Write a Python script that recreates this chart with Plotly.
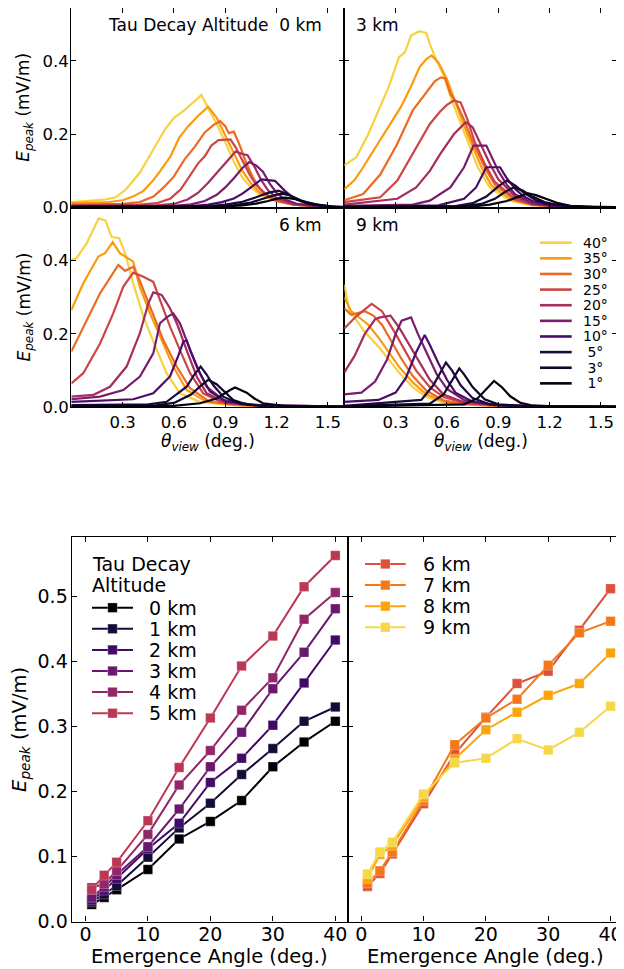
import plotly.graph_objects as go

# page is 624x969; the browser body adds an 8px margin, so the figure is 616x961
PAGE_W, PAGE_H = 624, 969
OFF = 8
W, H = PAGE_W - OFF, PAGE_H - OFF

# ---------------- data: top panels (E_peak vs viewing angle) ----------------
angles = [40, 35, 30, 25, 20, 15, 10, 5, 3, 1]
angle_labels = ["40°", "35°", "30°", "25°", "20°", "15°", "10°", "\u00a05°", "\u00a03°", "\u00a01°"]
panel_alts = ["0 km", "3 km", "6 km", "9 km"]

theta_0km = [
    [0.00,0.10,0.20,0.26,0.32,0.40,0.48,0.55,0.60,0.66,0.72,0.76,0.80,0.85,0.90,0.95,1.00,1.05,1.10,1.20,1.30,1.45,1.60],
    [0.00,0.20,0.30,0.36,0.42,0.48,0.52,0.58,0.63,0.68,0.74,0.80,0.85,0.90,0.95,1.00,1.05,1.10,1.20,1.30,1.45,1.60],
    [0.00,0.30,0.40,0.48,0.54,0.60,0.66,0.72,0.78,0.83,0.87,0.90,0.92,0.95,0.98,1.02,1.06,1.10,1.15,1.20,1.30,1.45,1.60],
    [0.00,0.40,0.50,0.58,0.64,0.70,0.74,0.78,0.82,0.86,0.93,0.96,1.00,1.04,1.08,1.12,1.20,1.30,1.45,1.60],
    [0.00,0.50,0.60,0.68,0.74,0.80,0.86,0.91,0.96,1.00,1.03,1.07,1.11,1.15,1.20,1.30,1.45,1.60],
    [0.00,0.60,0.70,0.78,0.85,0.90,0.95,1.00,1.04,1.08,1.12,1.16,1.20,1.25,1.32,1.45,1.60],
    [0.00,0.70,0.80,0.88,0.95,1.00,1.05,1.11,1.19,1.25,1.30,1.38,1.50,1.60],
    [0.00,0.80,0.90,1.00,1.08,1.15,1.21,1.26,1.32,1.40,1.50,1.60],
    [0.00,0.85,0.95,1.05,1.12,1.18,1.23,1.28,1.34,1.42,1.52,1.60],
    [0.00,0.90,1.00,1.08,1.15,1.21,1.25,1.30,1.36,1.44,1.53,1.60],
]
epeak_0km = [
    [0.015,0.018,0.022,0.028,0.050,0.095,0.160,0.215,0.245,0.265,0.290,0.307,0.272,0.228,0.178,0.125,0.082,0.055,0.037,0.017,0.008,0.003,0.001],
    [0.012,0.014,0.020,0.030,0.045,0.075,0.100,0.140,0.190,0.220,0.250,0.275,0.245,0.197,0.148,0.100,0.066,0.041,0.018,0.008,0.003,0.001],
    [0.008,0.010,0.015,0.030,0.055,0.085,0.130,0.165,0.205,0.225,0.236,0.222,0.203,0.207,0.175,0.125,0.083,0.053,0.032,0.019,0.008,0.003,0.001],
    [0.006,0.008,0.012,0.025,0.050,0.090,0.120,0.140,0.170,0.184,0.186,0.165,0.127,0.092,0.062,0.042,0.020,0.008,0.003,0.001],
    [0.005,0.006,0.010,0.022,0.040,0.068,0.100,0.128,0.153,0.146,0.143,0.112,0.075,0.047,0.026,0.010,0.003,0.001],
    [0.004,0.005,0.009,0.018,0.035,0.055,0.080,0.108,0.124,0.115,0.098,0.065,0.040,0.022,0.010,0.003,0.001],
    [0.003,0.004,0.008,0.015,0.025,0.038,0.055,0.077,0.073,0.045,0.026,0.010,0.003,0.001],
    [0.002,0.004,0.008,0.016,0.028,0.040,0.046,0.038,0.022,0.009,0.003,0.001],
    [0.002,0.003,0.007,0.014,0.024,0.033,0.038,0.033,0.020,0.009,0.003,0.001],
    [0.001,0.003,0.006,0.011,0.018,0.025,0.027,0.024,0.016,0.008,0.003,0.001],
]

theta_3km = [
    [0.00,0.07,0.14,0.21,0.26,0.32,0.355,0.39,0.44,0.48,0.50,0.54,0.58,0.63,0.705,0.78,0.85,0.97,1.10,1.30,1.60],
    [0.00,0.06,0.11,0.21,0.27,0.33,0.39,0.44,0.48,0.51,0.55,0.60,0.65,0.72,0.80,0.86,0.98,1.10,1.30,1.60],
    [0.00,0.11,0.21,0.31,0.40,0.48,0.53,0.565,0.59,0.62,0.65,0.70,0.75,0.82,0.88,1.00,1.10,1.30,1.60],
    [0.00,0.21,0.31,0.42,0.50,0.56,0.60,0.64,0.68,0.72,0.76,0.82,0.88,1.00,1.10,1.30,1.60],
    [0.00,0.31,0.42,0.50,0.56,0.64,0.71,0.75,0.80,0.85,0.90,1.00,1.10,1.30,1.60],
    [0.00,0.40,0.50,0.62,0.70,0.755,0.83,0.86,0.90,0.95,1.00,1.10,1.20,1.40,1.60],
    [0.00,0.55,0.70,0.77,0.83,0.91,0.95,1.00,1.05,1.10,1.20,1.40,1.60],
    [0.00,0.65,0.75,0.83,0.90,0.95,1.00,1.05,1.12,1.20,1.35,1.60],
    [0.00,0.70,0.80,0.88,0.94,0.99,1.04,1.10,1.17,1.25,1.40,1.60],
    [0.00,0.75,0.85,0.95,1.02,1.075,1.12,1.18,1.25,1.32,1.45,1.60],
]
epeak_3km = [
    [0.115,0.137,0.200,0.274,0.330,0.410,0.424,0.469,0.481,0.476,0.446,0.400,0.362,0.290,0.200,0.110,0.055,0.019,0.006,0.002,0.001],
    [0.050,0.075,0.110,0.183,0.230,0.274,0.330,0.383,0.405,0.415,0.395,0.350,0.287,0.200,0.112,0.060,0.021,0.007,0.002,0.001],
    [0.020,0.037,0.090,0.174,0.265,0.315,0.345,0.355,0.352,0.310,0.290,0.240,0.180,0.110,0.062,0.021,0.008,0.002,0.001],
    [0.015,0.028,0.074,0.165,0.228,0.262,0.280,0.292,0.287,0.240,0.182,0.120,0.070,0.023,0.008,0.002,0.001],
    [0.008,0.024,0.055,0.100,0.146,0.200,0.233,0.219,0.170,0.120,0.077,0.030,0.010,0.002,0.001],
    [0.005,0.008,0.019,0.055,0.110,0.169,0.169,0.140,0.100,0.062,0.036,0.012,0.005,0.002,0.001],
    [0.003,0.006,0.024,0.055,0.110,0.110,0.080,0.050,0.030,0.018,0.006,0.002,0.001],
    [0.002,0.004,0.012,0.030,0.058,0.074,0.060,0.040,0.020,0.009,0.003,0.001],
    [0.002,0.004,0.010,0.024,0.043,0.055,0.047,0.030,0.015,0.007,0.002,0.001],
    [0.001,0.003,0.008,0.018,0.030,0.039,0.034,0.024,0.012,0.005,0.002,0.001],
]

theta_6km = [
    [0.00,0.03,0.09,0.16,0.20,0.236,0.28,0.314,0.362,0.421,0.50,0.557,0.635,0.75,0.95,1.20,1.60],
    [0.00,0.07,0.158,0.197,0.242,0.284,0.362,0.40,0.46,0.538,0.596,0.674,0.79,0.95,1.20,1.60],
    [0.00,0.09,0.168,0.275,0.314,0.362,0.40,0.46,0.538,0.616,0.694,0.81,0.99,1.20,1.60],
    [0.00,0.07,0.168,0.245,0.304,0.362,0.421,0.479,0.518,0.577,0.635,0.694,0.771,0.869,1.044,1.30,1.60],
    [0.00,0.13,0.226,0.323,0.401,0.45,0.479,0.528,0.577,0.62,0.674,0.733,0.791,0.908,1.14,1.60],
    [0.00,0.168,0.304,0.401,0.479,0.518,0.557,0.596,0.635,0.674,0.733,0.791,0.888,1.064,1.60],
    [0.00,0.362,0.479,0.577,0.625,0.655,0.674,0.694,0.752,0.81,0.908,1.10,1.60],
    [0.00,0.45,0.557,0.674,0.72,0.756,0.79,0.83,0.888,0.986,1.15,1.60],
    [0.00,0.50,0.60,0.70,0.76,0.80,0.849,0.90,0.947,1.03,1.20,1.60],
    [0.00,0.60,0.752,0.849,0.928,0.957,1.025,1.07,1.12,1.24,1.40,1.60],
]
epeak_6km = [
    [0.402,0.406,0.447,0.515,0.509,0.464,0.461,0.420,0.338,0.247,0.156,0.093,0.038,0.015,0.006,0.003,0.002],
    [0.265,0.338,0.411,0.420,0.450,0.420,0.397,0.329,0.256,0.174,0.111,0.047,0.015,0.006,0.003,0.002],
    [0.152,0.238,0.311,0.388,0.372,0.383,0.345,0.274,0.183,0.111,0.052,0.015,0.006,0.003,0.002],
    [0.065,0.093,0.174,0.256,0.329,0.367,0.356,0.342,0.293,0.220,0.156,0.093,0.038,0.015,0.006,0.003,0.002],
    [0.029,0.034,0.056,0.111,0.202,0.283,0.313,0.306,0.270,0.225,0.156,0.084,0.038,0.011,0.004,0.002],
    [0.022,0.029,0.047,0.084,0.147,0.229,0.245,0.256,0.229,0.184,0.111,0.056,0.020,0.006,0.002],
    [0.015,0.022,0.038,0.084,0.140,0.179,0.182,0.156,0.093,0.043,0.015,0.006,0.002],
    [0.006,0.008,0.015,0.056,0.090,0.111,0.090,0.060,0.029,0.009,0.003,0.001],
    [0.004,0.006,0.012,0.035,0.060,0.075,0.063,0.040,0.020,0.007,0.002,0.001],
    [0.002,0.004,0.011,0.024,0.047,0.054,0.040,0.024,0.011,0.004,0.002,0.001],
]

theta_9km = [
    [0.00,0.03,0.06,0.12,0.20,0.26,0.32,0.40,0.48,0.58,0.70,0.90,1.20,1.60],
    [0.00,0.04,0.10,0.14,0.20,0.26,0.32,0.40,0.48,0.58,0.70,0.90,1.20,1.60],
    [0.00,0.04,0.12,0.17,0.22,0.27,0.33,0.40,0.48,0.58,0.70,0.90,1.20,1.60],
    [0.00,0.07,0.16,0.22,0.30,0.36,0.42,0.50,0.58,0.70,0.90,1.20,1.60],
    [0.00,0.06,0.12,0.18,0.21,0.27,0.32,0.38,0.44,0.50,0.58,0.70,0.90,1.20,1.60],
    [0.00,0.10,0.18,0.25,0.30,0.335,0.39,0.43,0.48,0.54,0.60,0.70,0.85,1.20,1.60],
    [0.00,0.20,0.30,0.36,0.42,0.47,0.50,0.55,0.60,0.65,0.75,0.90,1.20,1.60],
    [0.00,0.45,0.52,0.57,0.594,0.63,0.68,0.75,0.85,1.00,1.60],
    [0.00,0.50,0.58,0.64,0.672,0.70,0.75,0.82,0.90,1.05,1.60],
    [0.00,0.70,0.78,0.84,0.875,0.92,0.97,1.03,1.10,1.25,1.60],
]
epeak_9km = [
    [0.334,0.262,0.245,0.205,0.165,0.130,0.095,0.055,0.028,0.013,0.007,0.004,0.002,0.002],
    [0.300,0.262,0.240,0.225,0.190,0.150,0.110,0.068,0.035,0.016,0.008,0.004,0.002,0.002],
    [0.270,0.252,0.262,0.250,0.225,0.185,0.135,0.085,0.045,0.019,0.009,0.004,0.002,0.002],
    [0.215,0.248,0.282,0.262,0.200,0.150,0.100,0.055,0.028,0.012,0.005,0.002,0.002],
    [0.095,0.140,0.200,0.240,0.245,0.250,0.218,0.170,0.120,0.075,0.035,0.014,0.005,0.002,0.002],
    [0.035,0.040,0.070,0.130,0.200,0.236,0.245,0.200,0.150,0.090,0.050,0.020,0.007,0.002,0.002],
    [0.015,0.020,0.040,0.080,0.150,0.197,0.170,0.120,0.075,0.040,0.015,0.006,0.002,0.002],
    [0.004,0.020,0.060,0.100,0.122,0.100,0.060,0.025,0.008,0.003,0.001],
    [0.003,0.010,0.035,0.080,0.106,0.090,0.055,0.022,0.008,0.003,0.001],
    [0.002,0.008,0.025,0.055,0.072,0.055,0.030,0.012,0.005,0.002,0.001],
]

top_theta_ticks = [0.3, 0.6, 0.9, 1.2, 1.5]
top_e_ticks = [0.0, 0.2, 0.4]

# ---------------- data: bottom panels (peak field vs emergence angle) ----------------
emergence = [1, 3, 5, 10, 15, 20, 25, 30, 35, 40]
altitudes = [0, 1, 2, 3, 4, 5, 6, 7, 8, 9]
altitude_labels = ["0 km", "1 km", "2 km", "3 km", "4 km", "5 km", "6 km", "7 km", "8 km", "9 km"]
epeak_alt0 = [0.026, 0.037, 0.049, 0.080, 0.127, 0.154, 0.186, 0.238, 0.276, 0.308]
epeak_alt1 = [0.030, 0.042, 0.055, 0.099, 0.144, 0.182, 0.226, 0.266, 0.308, 0.330]
epeak_alt2 = [0.033, 0.048, 0.066, 0.112, 0.151, 0.214, 0.251, 0.302, 0.367, 0.433]
epeak_alt3 = [0.037, 0.053, 0.072, 0.115, 0.173, 0.238, 0.291, 0.358, 0.414, 0.481]
epeak_alt4 = [0.052, 0.058, 0.078, 0.134, 0.210, 0.263, 0.325, 0.375, 0.465, 0.506]
epeak_alt5 = [0.049, 0.071, 0.091, 0.155, 0.237, 0.313, 0.393, 0.439, 0.515, 0.563]
epeak_alt6 = [0.054, 0.074, 0.104, 0.181, 0.258, 0.314, 0.366, 0.385, 0.448, 0.512]
epeak_alt7 = [0.059, 0.078, 0.107, 0.186, 0.272, 0.313, 0.342, 0.394, 0.444, 0.462]
epeak_alt8 = [0.066, 0.103, 0.117, 0.191, 0.250, 0.295, 0.322, 0.348, 0.366, 0.413]
epeak_alt9 = [0.073, 0.107, 0.122, 0.196, 0.244, 0.251, 0.281, 0.264, 0.291, 0.331]
bottom_x_ticks = [0, 10, 20, 30, 40]
bottom_y_ticks = [0.0, 0.1, 0.2, 0.3, 0.4, 0.5]

# ---------------- styling helpers ----------------
FONT = "DejaVu Sans"
INFERNO = ["#000004", "#160b39", "#420a68", "#6a176e", "#932667", "#bc3754",
           "#dd513a", "#f37819", "#fca50a", "#f6d746", "#fcffa4"]


def inferno(t):
    t = min(max(t, 0.0), 1.0) * 10
    i = min(int(t), 9)
    f = t - i
    a = [int(INFERNO[i][k:k + 2], 16) for k in (1, 3, 5)]
    b = [int(INFERNO[i + 1][k:k + 2], 16) for k in (1, 3, 5)]
    c = [round(a[j] + (b[j] - a[j]) * f) for j in range(3)]
    return "rgb(%d,%d,%d)" % tuple(c)


angle_colors = [inferno(a / 45.0) for a in angles]
alt_colors = [inferno(h / 10.0) for h in altitudes]


# page-pixel -> paper coordinates
def px_x(p):
    return (p - OFF) / W


def px_y(p):
    return 1 - (p - OFF) / H


def dom_x(a, b):
    return [px_x(a), px_x(b)]


def dom_y(top, bottom):
    return [px_y(bottom), px_y(top)]


def axis(domain, rng, tickvals, ticktext, show, fsize, standoff, anchor):
    ax = dict(domain=domain, range=rng, tickmode="array", tickvals=tickvals,
              showticklabels=show, ticks="inside", ticklen=5, tickwidth=1.2,
              tickcolor="black", showline=True, linecolor="black", linewidth=1.3,
              mirror="ticks", showgrid=False, zeroline=False, anchor=anchor,
              fixedrange=True)
    if show:
        ax.update(ticktext=ticktext, ticklabelstandoff=standoff,
                  tickfont=dict(family=FONT, size=fsize, color="black"))
    return ax


fig = go.Figure()

# top panels
TL, TM, TR = 71.3, 344.3, 617.3
R1T, R12, R2B = 8.0, 207.6, 407.3
top_xr = [0, 1.5955]
top_yr = [0, 0.5443]
panels = [
    ("x", "y", theta_0km, epeak_0km),
    ("x2", "y2", theta_3km, epeak_3km),
    ("x3", "y3", theta_6km, epeak_6km),
    ("x4", "y4", theta_9km, epeak_9km),
]
for xa, ya, th, ep in panels:
    for k, ang in enumerate(angles):
        fig.add_trace(go.Scatter(x=th[k], y=ep[k], mode="lines", xaxis=xa, yaxis=ya,
                                 line=dict(color=angle_colors[k], width=2.2),
                                 showlegend=False, name=angle_labels[k]))

ttx = ["%.1f" % v for v in top_theta_ticks]
tty = ["%.1f" % v for v in top_e_ticks]
TF = 16.5
layout = dict(
    xaxis=axis(dom_x(TL, TM), top_xr, top_theta_ticks, ttx, False, TF, 0, "y"),
    yaxis=axis(dom_y(R1T, R12), top_yr, top_e_ticks, tty, True, TF, -2, "x"),
    xaxis2=axis(dom_x(TM, TR), top_xr, top_theta_ticks, ttx, False, TF, 0, "y2"),
    yaxis2=axis(dom_y(R1T, R12), top_yr, top_e_ticks, tty, False, TF, -2, "x2"),
    xaxis3=axis(dom_x(TL, TM), top_xr, top_theta_ticks, ttx, True, TF, 0, "y3"),
    yaxis3=axis(dom_y(R12, R2B), top_yr, top_e_ticks, tty, True, TF, -2, "x3"),
    xaxis4=axis(dom_x(TM, TR), top_xr, top_theta_ticks, ttx, True, TF, 0, "y4"),
    yaxis4=axis(dom_y(R12, R2B), top_yr, top_e_ticks, tty, False, TF, -2, "x4"),
)

# bottom panels
BL, BM, BR = 71.7, 347.5, 622.7
BT, BB = 537.3, 921.5
bot_xr = [-2.2, 41.95]
bot_yr = [0, 0.591]
bxt = [str(v) for v in bottom_x_ticks]
byt = ["%.1f" % v for v in bottom_y_ticks]
layout.update(
    xaxis5=axis(dom_x(BL, BM), bot_xr, bottom_x_ticks, bxt, True, 19, -4, "y5"),
    yaxis5=axis(dom_y(BT, BB), bot_yr, bottom_y_ticks, byt, True, 19, -1, "x5"),
    xaxis6=axis(dom_x(BM, BR), bot_xr, bottom_x_ticks, bxt, True, 19, -4, "y6"),
    yaxis6=axis(dom_y(BT, BB), bot_yr, bottom_y_ticks, byt, False, 19, -1, "x6"),
)

bottom_series = [epeak_alt0, epeak_alt1, epeak_alt2, epeak_alt3, epeak_alt4,
                 epeak_alt5, epeak_alt6, epeak_alt7, epeak_alt8, epeak_alt9]
MARKER = 9.5
for h, vals in zip(altitudes, bottom_series):
    left = h <= 5
    fig.add_trace(go.Scatter(
        x=emergence, y=vals, mode="lines+markers",
        xaxis="x5" if left else "x6", yaxis="y5" if left else "y6",
        line=dict(color=alt_colors[h], width=2),
        marker=dict(symbol="square", size=MARKER, color=alt_colors[h],
                    line=dict(width=0.8, color="rgba(255,255,255,0.35)")),
        name=altitude_labels[h], showlegend=False))

annotations = []
shapes = []


def text(x, y, s, size, xanchor="center", angle=0):
    annotations.append(dict(x=px_x(x), y=px_y(y), xref="paper", yref="paper", text=s,
                            showarrow=False, xanchor=xanchor, yanchor="middle",
                            textangle=angle, borderpad=0,
                            font=dict(family=FONT, size=size, color="black")))


def legend_line(x0, x1, y, color, width):
    shapes.append(dict(type="line", xref="paper", yref="paper",
                       x0=px_x(x0), x1=px_x(x1), y0=px_y(y), y1=px_y(y),
                       line=dict(color=color, width=width)))


def legend_square(xc, y, color):
    s = MARKER / 2
    shapes.append(dict(type="rect", xref="paper", yref="paper",
                       x0=px_x(xc - s), x1=px_x(xc + s), y0=px_y(y + s), y1=px_y(y - s),
                       fillcolor=color, line=dict(width=0.8, color="rgba(255,255,255,0.35)")))


# panel labels
text(TM - 21, 25, "Tau Decay Altitude\u00a0 " + panel_alts[0], 17, "right")
text(TM + 10.7, 25, panel_alts[1], 17, "left")
text(TM - 21, 225, panel_alts[2], 17, "right")
text(TM + 10.7, 225, panel_alts[3], 17, "left")

# axis titles
ylab = "<i>E</i><sub><i>peak</i></sub> (mV/m)"
xlab_top = "<i>θ</i><sub><i>view</i></sub> (deg.)"
xlab_bot = "Emergence Angle (deg.)"
text(25, (R1T + R12) / 2, ylab, 17, "center", -90)
text(25, (R12 + R2B) / 2, ylab, 17, "center", -90)
text((TL + TM) / 2, 442.5, xlab_top, 17)
text((TM + TR) / 2, 442.5, xlab_top, 17)
text(20.5, (BT + BB) / 2, ylab, 19.5, "center", -90)
text((BL + BM) / 2, 956, xlab_bot, 19.5)
text((BM + BR) / 2, 956, xlab_bot, 19.5)

# legend for viewing-angle curves (inside the 9 km panel)
leg_x0, leg_x1, leg_tx, leg_y0, leg_dy = 540.0, 571.7, 582.3, 242.7, 15.63
for k, lab in enumerate(angle_labels):
    yy = leg_y0 + k * leg_dy
    legend_line(leg_x0, leg_x1, yy, angle_colors[k], 2.6)
    text(leg_tx, yy, lab, 14, "left")

# legends for altitude series (bottom panels)
text(90.5, 563.5, "Tau Decay", 19, "left")
text(90.5, 585.0, "Altitude", 19, "left")
bdy = 21.1
for h in altitudes:
    if h <= 5:
        yy = 607.7 + h * bdy
        lx0, lx1, mx, tx = 92.0, 133.0, 112.5, 148.0
    else:
        yy = 564.0 + (h - 6) * bdy
        lx0, lx1, mx, tx = 365.0, 405.7, 385.3, 421.7
    legend_line(lx0, lx1, yy, alt_colors[h], 2)
    legend_square(mx, yy, alt_colors[h])
    text(tx, yy, altitude_labels[h], 19, "left")

layout.update(annotations=annotations, shapes=shapes)
fig.update_layout(**layout)
fig.update_layout(width=W, height=H, margin=dict(l=0, r=0, t=0, b=0),
                  paper_bgcolor="white", plot_bgcolor="white", template="none",
                  font=dict(family=FONT, color="black"), showlegend=False)

fig.write_html("out.html", config={"displayModeBar": False})
